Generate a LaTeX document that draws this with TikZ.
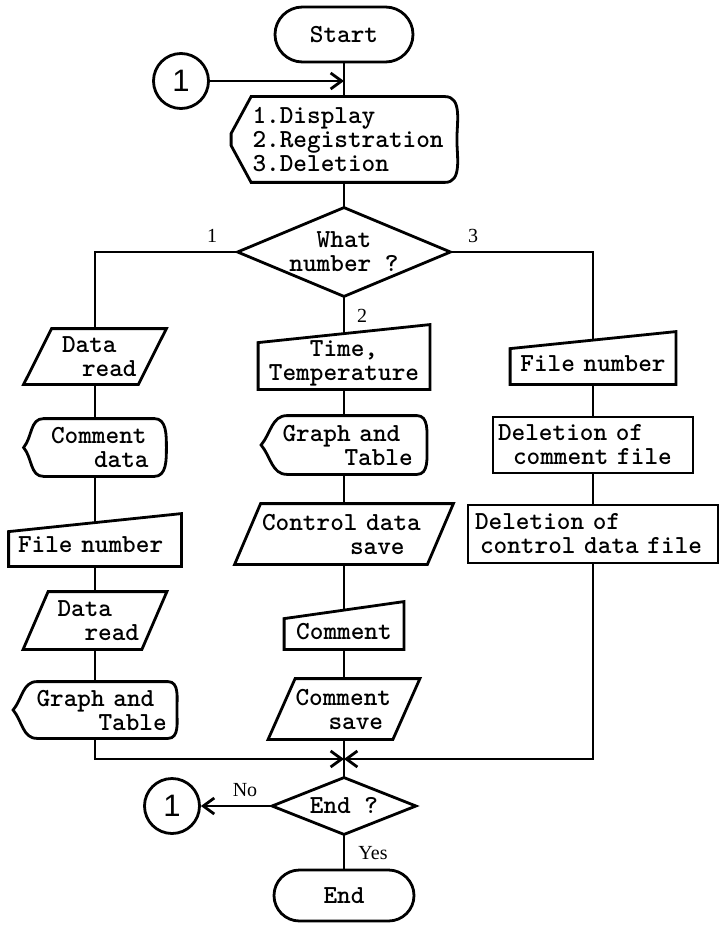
\documentclass[tikz,border=0pt]{standalone}
\usepackage{fontspec}
\newfontfamily\numfont{Liberation Sans}
\newfontfamily\lblfont{Liberation Serif}
\usetikzlibrary{arrows.meta,shapes.geometric,shapes.misc}
\pgfdeclarelayer{bg}
\pgfdeclarelayer{mid}
\pgfsetlayers{bg,mid,main}

% outlines drawn round the text nodes
\newcommand{\maninput}[2]{%
	\begin{pgfonlayer}{mid}
	\draw [flow, fill=white] (#1.south west) -- ([yshift=-#2]#1.north west)
	-- (#1.north east) -- (#1.south east) -- cycle;
	\end{pgfonlayer}}
\newcommand{\slant}[2]{%
	\begin{pgfonlayer}{mid}
	\draw [flow, fill=white] (#1.south west) -- ([xshift=#2]#1.north west)
	-- (#1.north east) -- ([xshift=-#2]#1.south east) -- cycle;
	\end{pgfonlayer}}
\newcommand{\dispbox}[3]{%
	\begin{pgfonlayer}{mid}
	\draw [flow, fill=white] ([xshift=#2]#1.north west) -- ([xshift=-#3]#1.north east)
	to [out=0 , in=90] (#1.east) to [out=-90 , in=0] ([xshift=-#3]#1.south east)
	-- ([xshift=#2]#1.south west) to [out=180 , in=-50] (#1.west)
	to [out=50 , in=180] ([xshift=#2]#1.north west) -- cycle;
	\end{pgfonlayer}}

\begin{document}
\begin{tikzpicture}[x=1pt, y=-1pt,
	>={Straight Barb[length=11pt,width=16pt]},
	flow/.style={line width=2.8pt},
	txt/.style={font=\ttfamily\bfseries\fontsize{26}{24}\selectfont},
	box/.style={txt, flow, inner sep=0pt, align=left},
	term/.style={txt, flow, draw, fill=white, rounded rectangle, inner sep=0pt},
	dec/.style={txt, flow, draw, fill=white, diamond, aspect=2.4, inner sep=-2pt, align=center},
	conn/.style={flow, draw, fill=white, circle, minimum size=55pt, inner sep=0pt,
		font=\numfont\fontsize{31}{31}\selectfont},
	lbl/.style={font=\lblfont\fontsize{20}{20}\selectfont}]
\useasboundingbox (0,0) rectangle (720,925);

% START AND MENU
	\node [term, minimum width=138pt, minimum height=55pt] (start) at (344,34.5) {Start};
	\node [conn] (con1) at (181,81) {1};
	\coordinate (j1) at (344,81);
	\node [box, text width=223pt, minimum height=83pt] (menu) at (344,139.5)
	{\hspace*{20pt}1.Display\\\hspace*{20pt}2.Registration\\\hspace*{20pt}3.Deletion};
	\node [dec, minimum width=214pt, minimum height=90pt] (what) at (344,252) {What\\number ?};

% LEFT : DISPLAY
	\node [box, text width=140pt, minimum height=53pt] (dread1) at (95,356.5)
	{\hspace*{37pt}Data\\\hspace*{57pt}read};
	\node [box, text width=140pt, minimum height=55pt] (cdata) at (95,447.5)
	{\hspace*{26pt}Comment\\\hspace*{69pt}data};
	\node [box, text width=170pt, minimum height=50pt] (fnum1) at (95,540)
	{\hspace*{8pt}\rule{0pt}{26pt}File number};
	\node [box, text width=141pt, minimum height=55pt] (dread2) at (95,620.5)
	{\hspace*{33pt}Data\\\hspace*{60pt}read};
	\node [box, text width=161pt, minimum height=54pt] (gt1) at (95,710)
	{\hspace*{22pt}Graph and\\\hspace*{84pt}Table};

% MIDDLE : REGISTRATION
	\node [box, align=center, text width=169pt, minimum height=62pt] (time) at (344,357)
	{\rule{0pt}{28pt}Time,\\Temperature};
	\node [box, text width=163pt, minimum height=56pt] (gt2) at (344,445)
	{\hspace*{20pt}Graph and\\\hspace*{82pt}Table};
	\node [box, text width=216pt, minimum height=58pt] (cds) at (344,534)
	{\hspace*{26pt}Control data\\\hspace*{114pt}save};
	\node [box, align=center, text width=117pt, minimum height=45pt] (cmt) at (344,625.5)
	{\rule{0pt}{28pt}Comment};
	\node [box, text width=149pt, minimum height=58pt] (csave) at (344,709)
	{\hspace*{26pt}Comment\\\hspace*{59pt}save};

% RIGHT : DELETION
	\node [box, align=center, text width=163pt, minimum height=50pt] (fnum2) at (593,358)
	{\rule{0pt}{28pt}File number};
	\node [box, draw, fill=white, text width=200pt, minimum height=56pt] (delcom) at (593,445)
	{\hspace*{5pt}Deletion of\\\hspace*{20pt}comment file};
	\node [box, draw, fill=white, text width=250pt, minimum height=58pt] (delctl) at (593,534)
	{\hspace*{7pt}Deletion of\\\hspace*{12pt}control data file};

% END
	\coordinate (merge) at (344,759);
	\node [dec, minimum width=145pt, minimum height=58pt] (endq) at (344,806) {End ?};
	\node [conn] (con2) at (172,806) {1};
	\node [term, minimum width=140pt, minimum height=51pt] (stop) at (344,895.5) {End};

% OUTLINES
	\begin{pgfonlayer}{mid}
	\draw [flow, fill=white] ([xshift=20pt]menu.north west) -- ([xshift=-12pt]menu.north east)
	to [out=0 , in=90] (menu.east) to [out=-90 , in=0] ([xshift=-12pt]menu.south east)
	-- ([xshift=20pt]menu.south west) -- ([yshift=-6pt]menu.west) -- ([yshift=6pt]menu.west)
	-- cycle;
	\end{pgfonlayer}
	\slant{dread1}{28pt}
	\dispbox{cdata}{20pt}{12pt}
	\maninput{fnum1}{18pt}
	\slant{dread2}{25pt}
	\dispbox{gt1}{24pt}{9pt}
	\maninput{time}{18pt}
	\dispbox{gt2}{26pt}{10pt}
	\slant{cds}{26pt}
	\maninput{cmt}{17pt}
	\slant{csave}{27pt}
	\maninput{fnum2}{17pt}

% FLOW LINES
	\begin{pgfonlayer}{bg}
	\draw [flow] (start.center) -- (menu.center) -- (what.center);
	\draw [flow] (what.west) -| (dread1.center);
	\draw [flow] (what.east) -| (fnum2.center);
	\draw [flow] (dread1.center) -- (cdata.center) -- (fnum1.center) -- (dread2.center) -- (gt1.center);
	\draw [flow] (what.center) -- (time.center) -- (gt2.center) -- (cds.center) -- (cmt.center)
	-- (csave.center) -- (merge) -- (endq.center) -- (stop.center);
	\draw [flow] (fnum2.center) -- (delcom.center) -- (delctl.center);
	\draw [flow, ->] (gt1.center) |- (merge);
	\draw [flow, ->] (delctl.center) |- (merge);
	\end{pgfonlayer}
	\draw [flow, ->] (con1) -- (j1);
	\draw [flow, ->] (endq) -- (con2);

% LABELS
	\node [lbl] (l1) at (212,236) {1};
	\node [lbl] (l2) at (362,316) {2};
	\node [lbl] (l3) at (473,236) {3};
	\node [lbl] (lno) at (245,790) {No};
	\node [lbl] (lyes) at (373,853) {Yes};
\end{tikzpicture}
\end{document}
